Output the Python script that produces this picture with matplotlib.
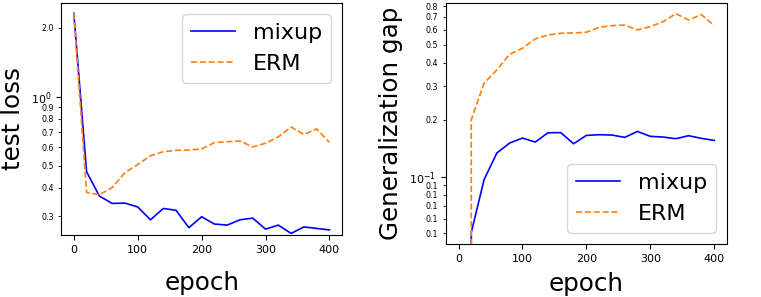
import numpy as np
import matplotlib
matplotlib.use("Agg")
import matplotlib.pyplot as plt
from matplotlib.ticker import FormatStrFormatter

# epochs sampled every 20
epochs = np.arange(0, 401, 20)

# test loss
loss_mixup = [2.31, 0.470, 0.368, 0.342, 0.343, 0.330, 0.290, 0.325, 0.319, 0.268, 0.299,
              0.278, 0.275, 0.290, 0.295, 0.264, 0.275, 0.253, 0.270, 0.266, 0.262]
loss_erm = [2.31, 0.382, 0.373, 0.401, 0.466, 0.505, 0.552, 0.575, 0.583, 0.585, 0.591,
            0.630, 0.636, 0.640, 0.603, 0.626, 0.667, 0.737, 0.683, 0.723, 0.632]

# generalization gap (zero at epoch 0)
gap_mixup = [0.0, 0.0506, 0.0964, 0.1334, 0.1506, 0.160, 0.1524, 0.1707, 0.171, 0.1493, 0.1653,
             0.1667, 0.166, 0.1613, 0.1735, 0.1634, 0.162, 0.1588, 0.1647, 0.1594, 0.1555]
gap_erm = [0.0, 0.200, 0.312, 0.367, 0.444, 0.478, 0.536, 0.562, 0.574, 0.576, 0.581,
           0.617, 0.630, 0.634, 0.598, 0.622, 0.661, 0.729, 0.675, 0.720, 0.630]

LABEL = 17.7
LEG = 16
fig = plt.figure(figsize=(7.61, 2.97), dpi=100)
ax1 = fig.add_axes([0.0802, 0.2088, 0.3695, 0.781])
ax2 = fig.add_axes([0.5857, 0.1785, 0.3696, 0.8104])

ax1.plot(epochs, loss_mixup, color="b", lw=1.2, label="mixup")
ax1.plot(epochs, loss_erm, color="C1", ls="--", lw=1.2, label="ERM")
ax1.set_yscale("log")
ax1.set_ylim(0.249, 2.56)
ax1.set_ylabel("test loss", fontsize=LABEL)
ax1.set_xlabel("epoch", fontsize=LABEL, labelpad=12)
ax1.legend(loc="upper right", fontsize=LEG)

ax2.plot(epochs, gap_mixup, color="b", lw=1.2, label="mixup")
ax2.plot(epochs, gap_erm, color="C1", ls="--", lw=1.2, label="ERM")
ax2.set_yscale("log")
ax2.set_ylim(0.044, 0.827)
ax2.set_ylabel("Generalization gap", fontsize=LABEL)
ax2.set_xlabel("epoch", fontsize=LABEL, labelpad=6)
ax2.legend(loc="lower right", fontsize=LEG)

for ax in (ax1, ax2):
    ax.set_xlim(-20, 420)
    ax.set_xticks([0, 100, 200, 300, 400])
    ax.yaxis.set_minor_formatter(FormatStrFormatter("%.1f"))
    ax.tick_params(axis="both", which="major", labelsize=8)
    ax.tick_params(axis="y", which="minor", labelsize=5.7)

fig.savefig("out.png", dpi=100)
